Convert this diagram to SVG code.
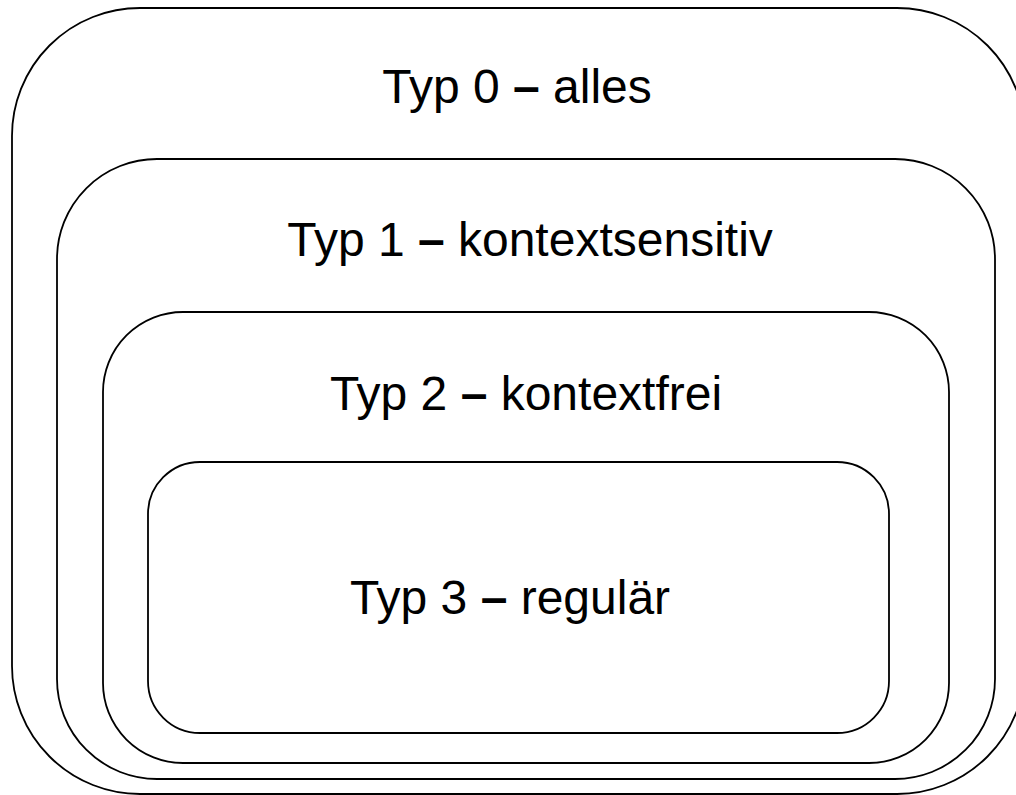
<svg xmlns="http://www.w3.org/2000/svg" width="1016" height="795" viewBox="0 0 1016 795">
  <style>
    .box { fill: none; stroke: #000; stroke-width: 1.8; }
    .label { font-family: "Liberation Sans", Arial, sans-serif; font-size: 48px; fill: #000; text-anchor: middle; }
    .dash { font-weight: bold; }
  </style>
  <rect width="1016" height="795" fill="#fff"/>
  <!-- Chomsky hierarchy: nested language classes -->
  <g id="typ0">
    <rect class="box" x="12" y="8" width="1013" height="786" rx="128" ry="128"/>
    <text class="label" x="517" y="103">Typ 0 <tspan class="dash">–</tspan> alles</text>
  </g>
  <g id="typ1">
    <rect class="box" x="57" y="159" width="938" height="620" rx="100" ry="100"/>
    <text class="label" x="530" y="256">Typ 1 <tspan class="dash">–</tspan> kontextsensitiv</text>
  </g>
  <g id="typ2">
    <rect class="box" x="103" y="312" width="846" height="451" rx="80" ry="80"/>
    <text class="label" x="526" y="410">Typ 2 <tspan class="dash">–</tspan> kontextfrei</text>
  </g>
  <g id="typ3">
    <rect class="box" x="148" y="462" width="741" height="271" rx="52" ry="52"/>
    <text class="label" x="510" y="614">Typ 3 <tspan class="dash">–</tspan> regulär</text>
  </g>
</svg>
